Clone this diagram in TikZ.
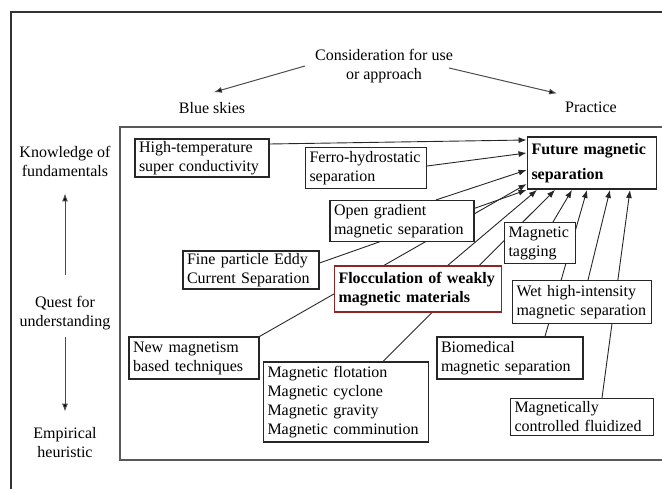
\documentclass[tikz,border=0pt]{standalone}
\usepackage{fontspec}
\setmainfont{Liberation Serif}
\usetikzlibrary{arrows.meta,backgrounds}

\definecolor{flocred}{HTML}{8E2424}

\tikzset{
  txt/.style={font=\fontsize{16}{19}\selectfont, align=center, inner sep=0pt, text=black},
  boxed/.style={draw=black!85, line width=1.1pt, fill=white, text=black,
    font=\fontsize{16}{19}\selectfont, align=left, inner xsep=4pt, inner ysep=2pt},
  futbox/.style={boxed, line width=1.9pt, font=\fontsize{16}{25}\selectfont\bfseries},
  flocbox/.style={boxed, draw=flocred, line width=1.6pt, font=\fontsize{16}{19}\selectfont\bfseries},
  link/.style={draw=black!85, line width=0.9pt, -{Latex[length=8pt,width=6pt]}},
  axis/.style={draw=black!70, line width=1pt, -{Latex[length=8pt,width=6pt,fill=black]}},
}

\begin{document}
\begin{tikzpicture}[x=1pt,y=-1pt]
  \useasboundingbox (0,0) rectangle (662,489);
  % frames
  \draw[line width=1.6pt, black!80] (662,12) -- (11,12) -- (11,489);
  \draw[line width=1.1pt, black!65] (662,127) -- (120,127) -- (120,460) -- (662,460);
  % labels round the frame
  \node[txt] (cons) at (384,66) {Consideration for use\\or approach};
  \node[txt] (blue) at (212,108) {Blue skies};
  \node[txt] (prac) at (591,107) {Practice};
  \node[txt] (know) at (65,161) {Knowledge of\\fundamentals};
  \node[txt] (quest) at (65,313) {Quest for\\understanding};
  \node[txt] (emp) at (65,443) {Empirical\\heuristic};
  % arrows of the axes
  \draw[axis] ([xshift=-10pt]cons.west) -- ([shift={(2pt,10pt)}]blue.north);
  \draw[axis] ([shift={(-4pt,-2pt)}]cons.east) -- ([shift={(-8pt,8pt)}]prac.north west);
  \draw[axis] ([yshift=21pt]quest.north) -- ([yshift=-17pt]know.south);
  \draw[axis] ([yshift=-7pt]quest.south) -- ([yshift=16pt]emp.north);
  % boxes
  \node[futbox, text width=121pt, minimum height=52pt] (fut) at (592,163) {Future magnetic\\separation};
  \node[boxed, text width=126pt, minimum height=38pt] (ht) at (202,158) {High-temperature\\super conductivity};
  \node[boxed, text width=113pt, minimum height=41pt] (fe) at (366,168) {Ferro-hydrostatic\\separation};
  \node[boxed, text width=136pt, minimum height=41pt] (og) at (402,221) {Open gradient\\magnetic separation};
  \node[boxed, text width=128pt, minimum height=38pt] (fine) at (251,270) {Fine particle Eddy\\Current Separation};
  \node[flocbox, text width=159pt, minimum height=46pt] (floc) at (418,289) {Flocculation of weakly\\magnetic materials};
  \node[boxed, text width=63pt, minimum height=41pt] (tag) at (540,243) {Magnetic\\tagging};
  \node[boxed, text width=131pt, minimum height=43pt] (wet) at (582,302) {Wet high-intensity\\magnetic separation};
  \node[boxed, text width=122pt, minimum height=42pt] (newmag) at (194,358) {New magnetism\\based techniques};
  \node[boxed, text width=157pt, minimum height=80pt] (list) at (346,402) {Magnetic flotation\\Magnetic cyclone\\Magnetic gravity\\Magnetic comminution};
  \node[boxed, text width=138pt, minimum height=42pt] (bio) at (510,358) {Biomedical\\magnetic separation};
  \node[boxed, text width=135pt, minimum height=37pt] (fluid) at (582,417) {Magnetically\\controlled fluidized};
  % links, behind the boxes
  \begin{pgfonlayer}{background}
    \draw[link] ([yshift=14pt]ht.east) -- ([yshift=23pt]fut.west);
    \draw[link] ([yshift=2pt]fe.east) -- ([yshift=10pt]fut.west);
    \draw[link] ([xshift=34pt]og.north) -- ([yshift=-7pt]fut.west);
    \draw[link] (newmag.north east) -- ([yshift=-21pt]fut.west);
    \draw[link] ([yshift=7pt]fine.east) -- (fut.south west);
    \draw[link] ([xshift=30pt]floc.north) -- ([xshift=-55pt]fut.south);
    \draw[link] ([xshift=37pt]list.north) -- ([xshift=-37pt]fut.south);
    \draw[link] ([xshift=13pt]tag.north) -- ([xshift=-20pt]fut.south);
    \draw[link] ([xshift=35pt]bio.north) -- ([xshift=-5pt]fut.south);
    \draw[link] ([xshift=6pt]wet.north) -- ([xshift=18pt]fut.south);
    \draw[link] ([xshift=20pt]fluid.north) -- ([xshift=38pt]fut.south);
  \end{pgfonlayer}
\end{tikzpicture}
\end{document}
